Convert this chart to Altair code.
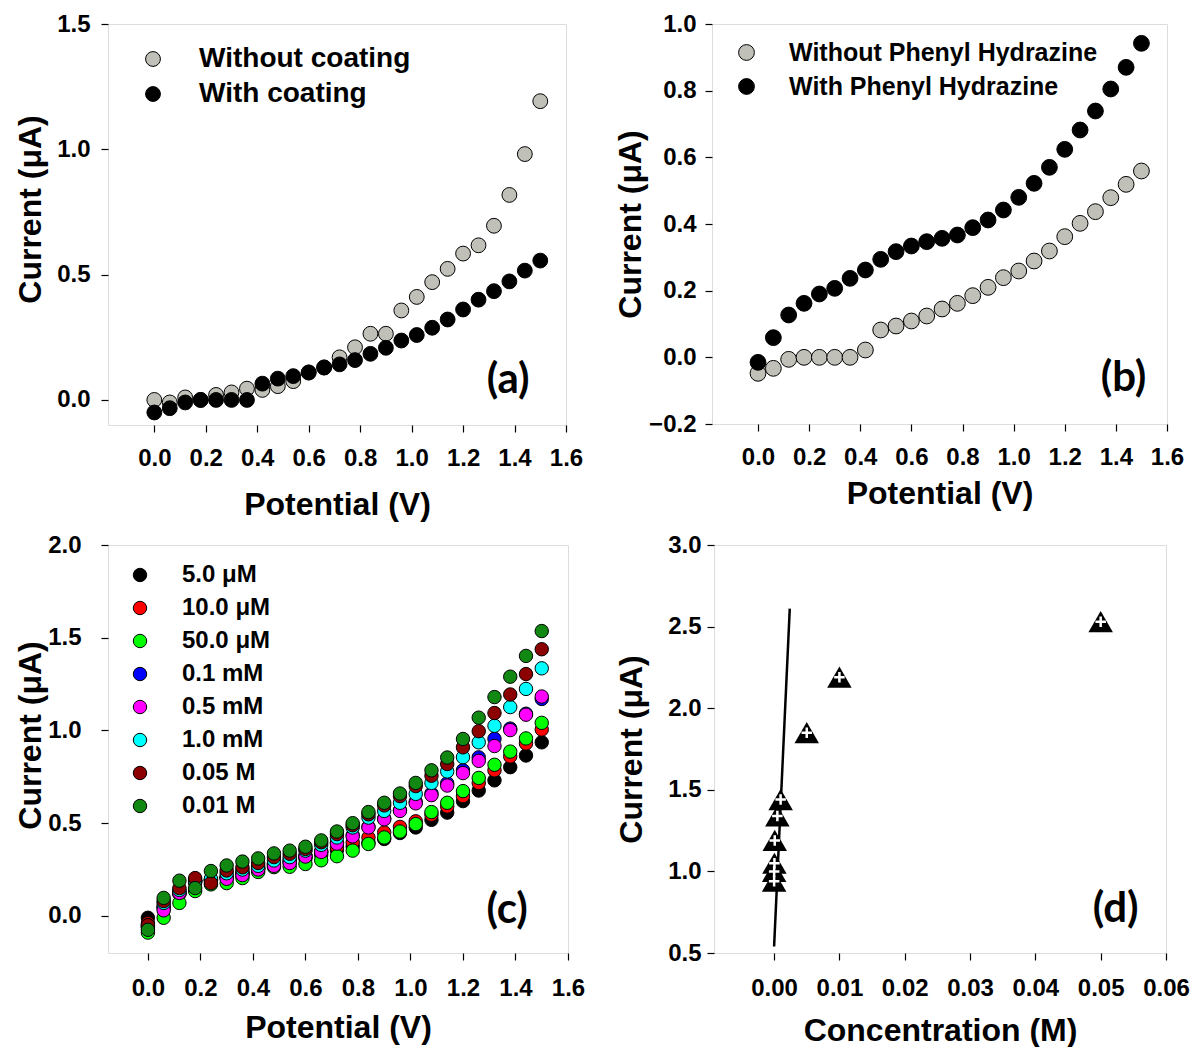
import altair as alt
import pandas as pd

# ---------------- data ----------------
potential = [0.00, 0.06, 0.12, 0.18, 0.24, 0.30, 0.36, 0.42, 0.48, 0.54, 0.60, 0.66, 0.72,
             0.78, 0.84, 0.90, 0.96, 1.02, 1.08, 1.14, 1.20, 1.26, 1.32, 1.38, 1.44, 1.50]

# panel (a)
a_names = ["Without coating", "With coating"]
a_without = [0.00, -0.01, 0.01, 0.00, 0.02, 0.03, 0.045, 0.04, 0.055, 0.075, 0.11, 0.13, 0.17,
             0.21, 0.264, 0.264, 0.357, 0.411, 0.47, 0.523, 0.584, 0.617, 0.695, 0.818, 0.981, 1.192]
a_with = [-0.05, -0.033, -0.01, 0.0, 0.0, 0.0, 0.0, 0.065, 0.085, 0.095, 0.109, 0.129, 0.142,
          0.159, 0.184, 0.208, 0.237, 0.259, 0.288, 0.321, 0.361, 0.40, 0.434, 0.473, 0.516, 0.556]

# panel (b)
b_names = ["Without Phenyl Hydrazine", "With Phenyl Hydrazine"]
b_without = [-0.048, -0.033, -0.006, 0.0, 0.0, 0.0, 0.0, 0.022, 0.082, 0.094, 0.109, 0.124, 0.145,
             0.162, 0.185, 0.21, 0.239, 0.259, 0.289, 0.319, 0.362, 0.402, 0.437, 0.479, 0.519, 0.559]
b_with = [-0.015, 0.059, 0.127, 0.162, 0.19, 0.207, 0.237, 0.262, 0.294, 0.317, 0.334, 0.347, 0.357,
          0.367, 0.389, 0.412, 0.442, 0.48, 0.522, 0.57, 0.624, 0.682, 0.739, 0.805, 0.87, 0.942]

# panel (c)
c_names = ["5.0 \u03bcM", "10.0 \u03bcM", "50.0 \u03bcM", "0.1 mM", "0.5 mM", "1.0 mM", "0.05 M", "0.01 M"]
c_colors = ["#000000", "#ff0000", "#00ff00", "#0000ff", "#ff00ff", "#00ffff", "#8b0000", "#118811"]
c_black = [-0.01, 0.05, 0.12, 0.18, 0.19, 0.205, 0.23, 0.255, 0.28, 0.295, 0.31, 0.33, 0.355,
           0.375, 0.395, 0.415, 0.447, 0.477, 0.518, 0.557, 0.619, 0.676, 0.731, 0.802, 0.865, 0.936]
c_red = [-0.04, 0.05, 0.12, 0.185, 0.195, 0.21, 0.235, 0.26, 0.285, 0.305, 0.32, 0.343, 0.37,
         0.397, 0.423, 0.45, 0.48, 0.51, 0.545, 0.59, 0.646, 0.717, 0.785, 0.86, 0.93, 1.005]
c_green = [-0.09, -0.01, 0.07, 0.134, 0.17, 0.177, 0.204, 0.237, 0.263, 0.265, 0.28, 0.30, 0.322,
           0.352, 0.388, 0.423, 0.455, 0.495, 0.56, 0.61, 0.673, 0.744, 0.815, 0.886, 0.957, 1.041]
c_blue = [-0.05, 0.04, 0.13, 0.19, 0.195, 0.21, 0.225, 0.255, 0.275, 0.29, 0.325, 0.35, 0.395,
          0.435, 0.48, 0.525, 0.57, 0.615, 0.66, 0.715, 0.785, 0.855, 0.955, 1.01, 1.09, 1.17]
c_magenta = [-0.06, 0.03, 0.124, 0.19, 0.19, 0.20, 0.22, 0.25, 0.27, 0.285, 0.32, 0.345, 0.39,
             0.429, 0.477, 0.521, 0.566, 0.607, 0.651, 0.703, 0.77, 0.836, 0.916, 1.002, 1.085, 1.183]
c_cyan = [-0.06, 0.07, 0.14, 0.19, 0.20, 0.23, 0.25, 0.27, 0.299, 0.317, 0.352, 0.383, 0.423,
          0.477, 0.53, 0.566, 0.61, 0.658, 0.717, 0.779, 0.856, 0.936, 1.025, 1.126, 1.224, 1.335]
c_darkred = [-0.05, 0.08, 0.15, 0.204, 0.177, 0.245, 0.262, 0.285, 0.317, 0.335, 0.361, 0.397, 0.441,
             0.489, 0.548, 0.596, 0.646, 0.70, 0.756, 0.819, 0.909, 0.996, 1.094, 1.194, 1.304, 1.438]
c_darkgreen = [-0.075, 0.097, 0.19, 0.15, 0.242, 0.272, 0.293, 0.31, 0.337, 0.352, 0.373, 0.407, 0.455,
               0.50, 0.56, 0.61, 0.66, 0.717, 0.785, 0.854, 0.954, 1.069, 1.18, 1.29, 1.402, 1.536]
c_series = [c_black, c_red, c_green, c_blue, c_magenta, c_cyan, c_darkred, c_darkgreen]

# panel (d)
d_conc = [0.000005, 0.00001, 0.00005, 0.0001, 0.0005, 0.001, 0.005, 0.01, 0.05]
d_current = [0.94, 1.00, 1.05, 1.19, 1.34, 1.44, 1.85, 2.19, 2.53]
d_fit_x = [0.0, 0.0024]
d_fit_y = [0.54, 2.61]

# ---------------- style ----------------
FONT = "Liberation Sans, Arial, sans-serif"
LETTER_FONT = "Lato, Open Sans, sans-serif"
pot_ticks = [0.0, 0.2, 0.4, 0.6, 0.8, 1.0, 1.2, 1.4, 1.6]
LBL = 24


def xaxis(title, values, fmt, label_pad, title_pad):
    return alt.Axis(title=title, values=values, format=fmt, grid=False, domain=False,
                    ticks=True, tickSize=7, tickColor="black", tickWidth=1.2,
                    labelFont=FONT, labelFontSize=LBL, labelFontWeight="bold",
                    labelColor="black", labelPadding=label_pad, labelFlush=False,
                    labelOverlap=False, titleFont=FONT, titleFontSize=32,
                    titleFontWeight="bold", titleColor="black", titlePadding=title_pad)


def yaxis(title, values, fmt, label_pad, title_pad, title_y=None):
    kw = {}
    if title_y is not None:
        kw["titleY"] = title_y
    return alt.Axis(title=title, values=values, format=fmt, grid=False, domain=False,
                    ticks=True, tickSize=7, tickColor="black", tickWidth=1.2,
                    labelFont=FONT, labelFontSize=LBL, labelFontWeight="bold",
                    labelColor="black", labelPadding=label_pad, labelFlush=False,
                    labelOverlap=False, titleFont=FONT, titleFontSize=32,
                    titleFontWeight="bold", titleColor="black", titlePadding=title_pad, **kw)


def legend(x, y, fs, size, offset, rowpad):
    return alt.Legend(title=None, orient="none", legendX=x, legendY=y, padding=0,
                      labelFont=FONT, labelFontSize=fs, labelFontWeight="bold",
                      labelColor="black", labelOffset=offset, rowPadding=rowpad,
                      symbolType="circle", symbolSize=size, symbolStrokeColor="black",
                      symbolStrokeWidth=1, symbolOpacity=1, labelLimit=600)


def letter(x, y, t):
    df = pd.DataFrame({"x": [x], "y": [y], "t": [t]})
    return alt.Chart(df).mark_text(font=LETTER_FONT, fontSize=42, fontWeight="bold",
                                   color="black", align="center", baseline="middle").encode(
        x="x:Q", y="y:Q", text="t:N")


def long_df(names, series):
    rows = []
    for k, (n, s) in enumerate(zip(names, series)):
        for xv, yv in zip(potential, s):
            rows.append({"x": xv, "y": yv, "series": n, "k": k})
    return pd.DataFrame(rows)


xs_pot = alt.Scale(domain=[-0.18, 1.6], nice=False, zero=False)

# ---------------- panel (a) ----------------
df_a = long_df(a_names, [a_without, a_with])
pts_a = alt.Chart(df_a).mark_point(filled=True, size=220, stroke="black", strokeWidth=1,
                                   opacity=1).encode(
    x=alt.X("x:Q", scale=xs_pot, axis=xaxis("Potential (V)", pot_ticks, ".1f", 14, 19)),
    y=alt.Y("y:Q", scale=alt.Scale(domain=[-0.1, 1.5], nice=False, zero=False),
            axis=yaxis("Current (\u03bcA)", [0.0, 0.5, 1.0, 1.5], ".1f", 11, 9, 185)),
    color=alt.Color("series:N", scale=alt.Scale(domain=a_names, range=["#c0c0b8", "#000000"]),
                    legend=legend(31, 21, 28, 220, 32, 7)),
    order=alt.Order("k:Q"),
)
panel_a = alt.layer(pts_a, letter(1.375, 0.08, "(a)")).properties(width=458, height=401)

# ---------------- panel (b) ----------------
df_b = long_df(b_names, [b_without, b_with])
pts_b = alt.Chart(df_b).mark_point(filled=True, size=250, stroke="black", strokeWidth=1,
                                   opacity=1).encode(
    x=alt.X("x:Q", scale=xs_pot, axis=xaxis("Potential (V)", pot_ticks, ".1f", 14, 9)),
    y=alt.Y("y:Q", scale=alt.Scale(domain=[-0.2, 1.0], nice=False, zero=False),
            axis=yaxis("Current (\u03bcA)", [-0.2, 0.0, 0.2, 0.4, 0.6, 0.8, 1.0], ".1f", 9, 1)),
    color=alt.Color("series:N", scale=alt.Scale(domain=b_names, range=["#c0c0b8", "#000000"]),
                    legend=legend(22, 16, 25, 250, 30, 8)),
    order=alt.Order("k:Q"),
)
panel_b = alt.layer(pts_b, letter(1.43, -0.063, "(b)")).properties(width=455, height=400)

# ---------------- panel (c) ----------------
df_c = long_df(c_names, c_series)
pts_c = alt.Chart(df_c).mark_point(filled=True, size=180, stroke="black", strokeWidth=1,
                                   opacity=1).encode(
    x=alt.X("x:Q", scale=alt.Scale(domain=[-0.152, 1.6], nice=False, zero=False),
            axis=xaxis("Potential (V)", pot_ticks, ".1f", 16, 12)),
    y=alt.Y("y:Q", scale=alt.Scale(domain=[-0.2, 2.0], nice=False, zero=False),
            axis=yaxis("Current (\u03bcA)", [0.0, 0.5, 1.0, 1.5, 2.0], ".1f", 20, 0, 190)),
    color=alt.Color("series:N", scale=alt.Scale(domain=c_names, range=c_colors),
                    legend=legend(20, 18, 24, 180, 30, 9)),
    order=alt.Order("k:Q"),
)
panel_c = alt.layer(pts_c, letter(1.368, 0.03, "(c)")).properties(width=460, height=408)

# ---------------- panel (d) ----------------
xs_d = alt.Scale(domain=[-0.0092, 0.06], nice=False, zero=False)
ys_d = alt.Scale(domain=[0.5, 3.0], nice=False, zero=False)
df_fit = pd.DataFrame({"x": d_fit_x, "y": d_fit_y})
df_d = pd.DataFrame({"x": d_conc, "y": d_current})
fit_d = alt.Chart(df_fit).mark_line(color="black", strokeWidth=2.5).encode(
    x=alt.X("x:Q", scale=xs_d,
            axis=xaxis("Concentration (M)", [0.0, 0.01, 0.02, 0.03, 0.04, 0.05, 0.06], ".2f",
                       16, 15)),
    y=alt.Y("y:Q", scale=ys_d,
            axis=yaxis("Current (\u03bcA)", [0.5, 1.0, 1.5, 2.0, 2.5, 3.0], ".1f", 6, 19.6)),
)
tri_d = alt.Chart(df_d).mark_point(shape="triangle-up", filled=True, size=600, color="black",
                                   opacity=1).encode(x="x:Q", y="y:Q")
plus_d = alt.Chart(df_d).mark_point(shape="M-1,0L1,0M0,-1L0,1", filled=False, size=110,
                                    stroke="white", strokeWidth=2.5, opacity=1).encode(
    x="x:Q", y="y:Q")
panel_d = alt.layer(fit_d, tri_d, plus_d, letter(0.0523, 0.77, "(d)")).properties(
    width=452, height=408)

top = alt.hconcat(panel_a, panel_b, spacing=30).resolve_scale(
    color="independent", x="independent", y="independent")
bottom = alt.hconcat(panel_c, panel_d, spacing=28).resolve_scale(
    color="independent", x="independent", y="independent")
chart = alt.vconcat(top, bottom, spacing=11).resolve_scale(
    color="independent", x="independent", y="independent"
).properties(
    padding={"left": 6, "top": 3, "right": 0, "bottom": 0}
).configure_view(stroke="black", strokeWidth=1.2).configure(background="white")

chart.save("out.html", embed_options={"renderer": "svg", "actions": False})
